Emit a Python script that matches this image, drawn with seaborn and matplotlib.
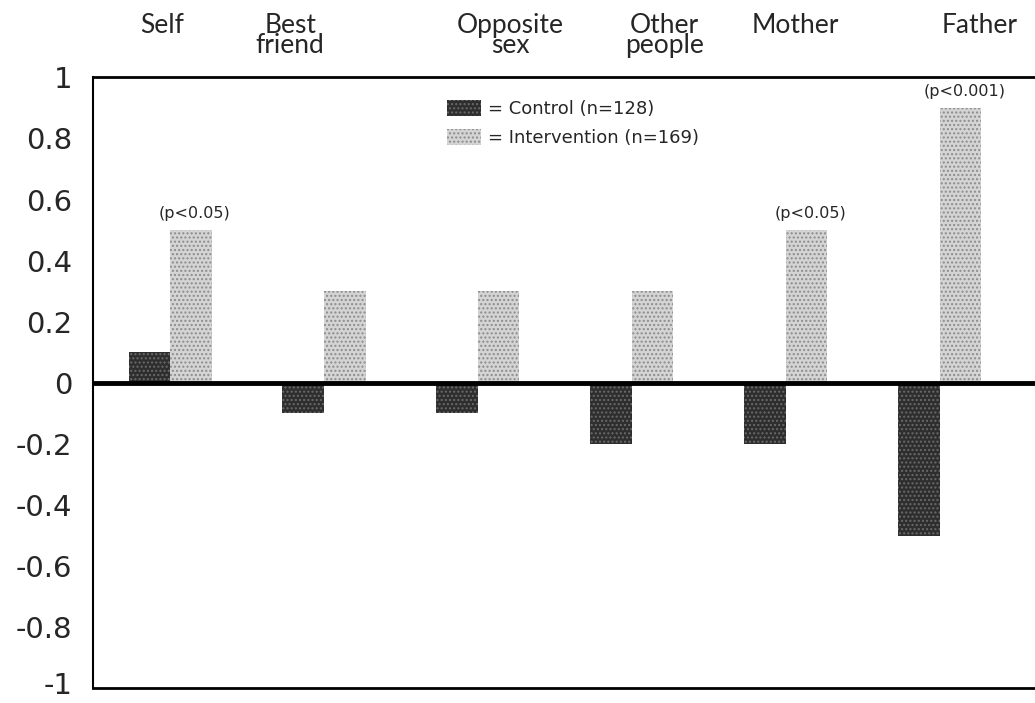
import numpy as np
import pandas as pd
import matplotlib
matplotlib.use("Agg")
import matplotlib.pyplot as plt
import matplotlib.transforms as mtransforms
import seaborn as sns

# Data
categories = ["Self", "Best\nfriend", "Opposite\nsex", "Other\npeople", "Mother", "Father"]
control = [0.1, -0.1, -0.1, -0.2, -0.2, -0.5]
intervention = [0.5, 0.3, 0.3, 0.3, 0.5, 0.9]
groups = ["Control", "Intervention"]
group_n = [128, 169]
p_labels = ["(p<0.05)", "", "", "", "(p<0.05)", "(p<0.001)"]
yticks = [1, 0.8, 0.6, 0.4, 0.2, 0, -0.2, -0.4, -0.6, -0.8, -1]

# shift of the header labels from the group centre (they sit a bit off in the original)
label_shift = [-0.05, -0.22, 0.21, 0.21, 0.06, 0.26]

face_cols = ["#2e2e2e", "#d4d4d4"]
dot_cols = ["#6a6a6a", "#8c8c8c"]

df = pd.DataFrame({
    "Category": categories * 2,
    "Group": [groups[0]] * len(categories) + [groups[1]] * len(categories),
    "Value": control + intervention,
})

sns.set_style("white")
plt.rcParams["font.family"] = ["DejaVu Sans"]
plt.rcParams["hatch.linewidth"] = 1.0

fig = plt.figure(figsize=(10.35, 7.03), dpi=100)
ax = fig.add_axes([0.09, 0.021, 0.91, 0.869])

sns.barplot(data=df, x="Category", y="Value", hue="Group", order=categories,
            hue_order=groups, palette=face_cols, width=0.54,
            saturation=1, errorbar=None, ax=ax, legend=False)

# stipple texture on the bars
for k, cont in enumerate(ax.containers):
    for bar in cont:
        bar.set_hatch("....")
        bar.set_edgecolor(dot_cols[k])
        bar.set_linewidth(0)

ax.set_xlim(-0.5, 5.62)
ax.set_ylim(-1, 1)
ax.set_yticks(yticks)
ax.set_yticklabels(["%g" % t for t in yticks], fontsize=21)
ax.tick_params(axis="y", length=0, pad=15)
ax.set_xticks([])
ax.set_xlabel("")
ax.set_ylabel("")

# keep the bottom "-1" inside the canvas
for lab in ax.get_yticklabels():
    if lab.get_text() == "-1":
        lab.set_transform(lab.get_transform() +
                          mtransforms.ScaledTranslation(0, 4 / 72, fig.dpi_scale_trans))

ax.axhline(0, color="black", lw=3.5, zorder=5)
ax.spines["right"].set_visible(False)
ax.spines["left"].set_linewidth(1.5)
ax.spines["top"].set_linewidth(2)
ax.spines["bottom"].set_linewidth(2)
for s in ["left", "top", "bottom"]:
    ax.spines[s].set_color("black")

# category labels above the frame
trans = mtransforms.blended_transform_factory(ax.transData, ax.transAxes)
for i, cat in enumerate(categories):
    ax.text(i + label_shift[i], 1.105, cat, transform=trans, ha="center", va="top",
            fontsize=19, family=["Lato", "DejaVu Sans"], linespacing=0.72)

# significance labels over intervention bars
for i, lab in enumerate(p_labels):
    if lab:
        ax.text(i + 0.16, intervention[i] + 0.03, lab, ha="center", va="bottom",
                fontsize=11.5)

# legend
handles = [plt.Rectangle((0, 0), 1, 1, facecolor=f, edgecolor=d, hatch="....", lw=0)
           for f, d in zip(face_cols, dot_cols)]
labels = ["= %s (n=%d)" % (g, n) for g, n in zip(groups, group_n)]
ax.legend(handles, labels, loc="upper left", bbox_to_anchor=(0.358, 0.99),
          frameon=False, fontsize=13, handlelength=1.9, handleheight=1.0,
          handletextpad=0.4, labelspacing=0.6)

fig.savefig("out.png", dpi=100)
